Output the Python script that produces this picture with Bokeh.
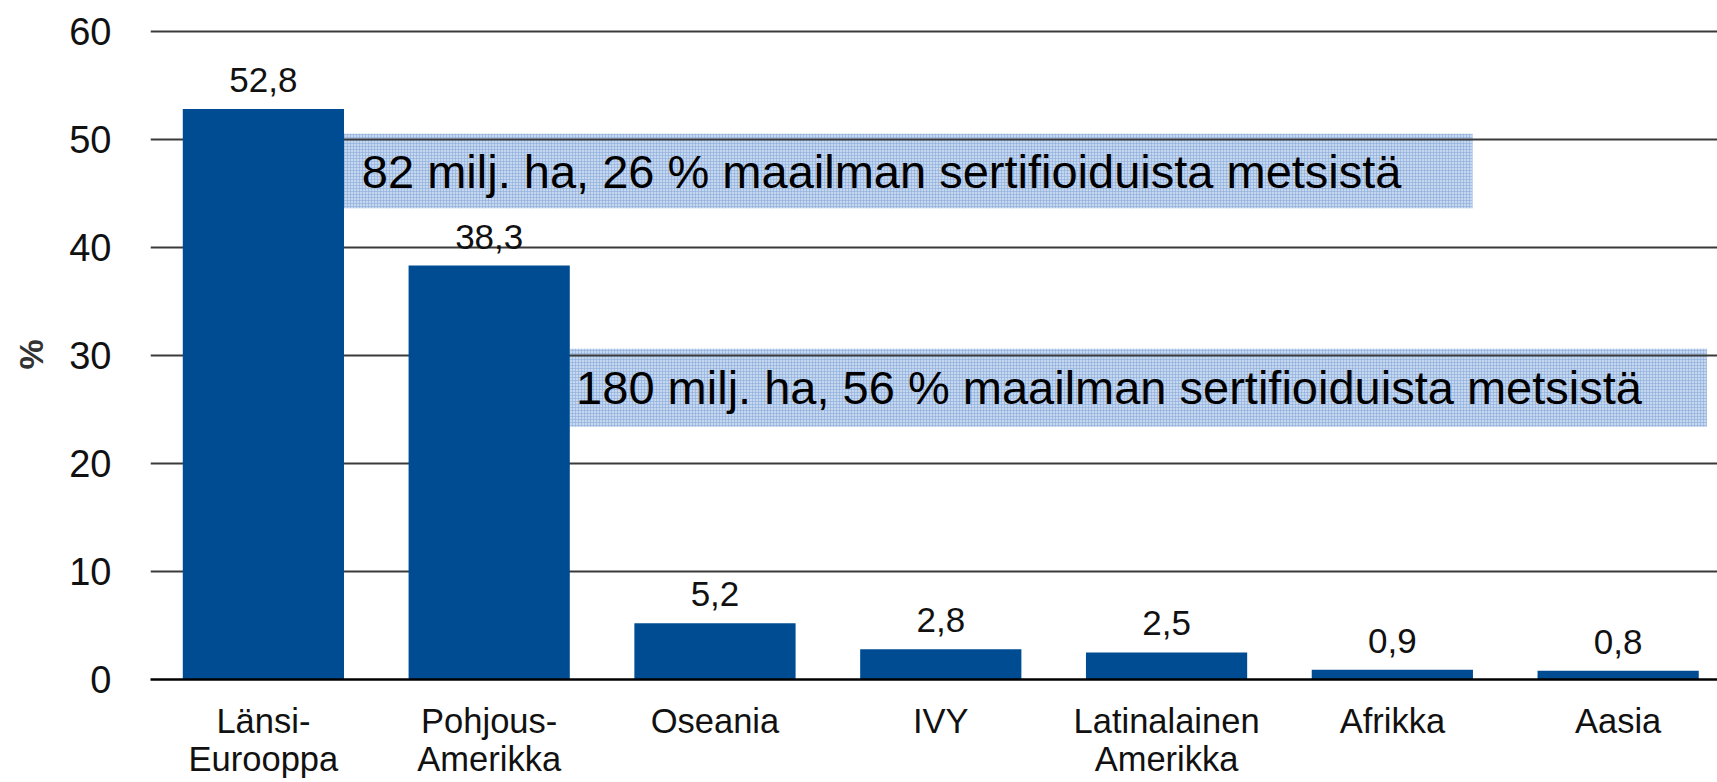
from bokeh.plotting import figure
from bokeh.models import FixedTicker, ColumnDataSource, Range1d
from bokeh.core.properties import value
from bokeh.embed import file_html
from bokeh.resources import INLINE

# ---- data ----
categories = ["Länsi-\nEurooppa", "Pohjous-\nAmerikka", "Oseania", "IVY",
              "Latinalainen\nAmerikka", "Afrikka", "Aasia"]
shares = [52.8, 38.3, 5.2, 2.8, 2.5, 0.9, 0.8]
value_labels = [f"{v:.1f}".replace(".", ",") for v in shares]
y_ticks = [0, 10, 20, 30, 40, 50, 60]
note_texts = ["82 milj. ha, 26 % maailman sertifioiduista metsistä",
              "180 milj. ha, 56 % maailman sertifioiduista metsistä"]

FONT = "Liberation Sans"
BAR_COLOR = "#004c93"
BAR_W = 0.714

xs = list(range(len(categories)))
src = ColumnDataSource(dict(x=xs, top=shares, lab=value_labels))

p = figure(width=1717, height=782, output_backend="svg", toolbar_location=None,
           x_range=Range1d(-0.5, 6.44), y_range=Range1d(0, 60.15),
           min_border_left=150, min_border_right=0, min_border_top=29,
           min_border_bottom=103)
p.background_fill_color = "white"
p.border_fill_color = "white"
p.outline_line_color = None

# annotation bands (drawn beneath grid lines)
band_left = [0 + BAR_W / 2, 1 + BAR_W / 2]
band_right = [5.355, 6.393]
band_bottom = [43.6, 23.4]
band_top = [50.5, 30.6]
p.quad(left=band_left, right=band_right, bottom=band_bottom, top=band_top,
       fill_color="#c6d8ef", line_color=None, hatch_pattern="+",
       hatch_color="#86a8d8", hatch_scale=3.0, hatch_weight=0.7, hatch_alpha=0.8,
       level="image")

# bars
p.vbar(x="x", top="top", width=BAR_W, bottom=0, source=src,
       fill_color=BAR_COLOR, line_color=None)

# value labels
p.text(x="x", y="top", text="lab", source=src, text_align="center",
       text_baseline="alphabetic", y_offset=-29, text_font=value(FONT),
       text_font_size="35px", text_color="#111111")

# note texts
p.text(x=[0.436, 1.385], y=[47.0, 27.0], text=note_texts, text_align="left",
       text_baseline="middle", text_font=value(FONT), text_font_size="47px",
       text_color="black")

# axes
p.xaxis.ticker = FixedTicker(ticks=xs)
p.xaxis.major_label_overrides = {i: c for i, c in enumerate(categories)}
p.xaxis.major_tick_line_color = None
p.xaxis.minor_tick_line_color = None
p.xaxis.axis_line_color = "black"
p.xaxis.axis_line_width = 2.5
p.xaxis.major_label_text_font = FONT
p.xaxis.major_label_text_font_size = "34.5px"
p.xaxis.major_label_text_line_height = 1.0
p.xaxis.major_label_text_color = "#111111"
p.xaxis.major_label_standoff = 16

p.yaxis.ticker = FixedTicker(ticks=y_ticks)
p.yaxis.axis_line_color = None
p.yaxis.major_tick_line_color = None
p.yaxis.minor_tick_line_color = None
p.yaxis.major_label_text_font = FONT
p.yaxis.major_label_text_font_size = "38px"
p.yaxis.major_label_text_color = "#111111"
p.yaxis.major_label_standoff = 33
p.yaxis.axis_label = "%"
p.yaxis.axis_label_text_font = FONT
p.yaxis.axis_label_text_font_style = "bold"
p.yaxis.axis_label_text_font_size = "34px"
p.yaxis.axis_label_text_color = "#333333"
p.yaxis.axis_label_standoff = 16

p.xgrid.grid_line_color = None
p.ygrid.ticker = FixedTicker(ticks=y_ticks)
p.ygrid.grid_line_color = "#3a3a3a"
p.ygrid.grid_line_width = 1.8

open("out.html", "w").write(file_html(p, INLINE))
